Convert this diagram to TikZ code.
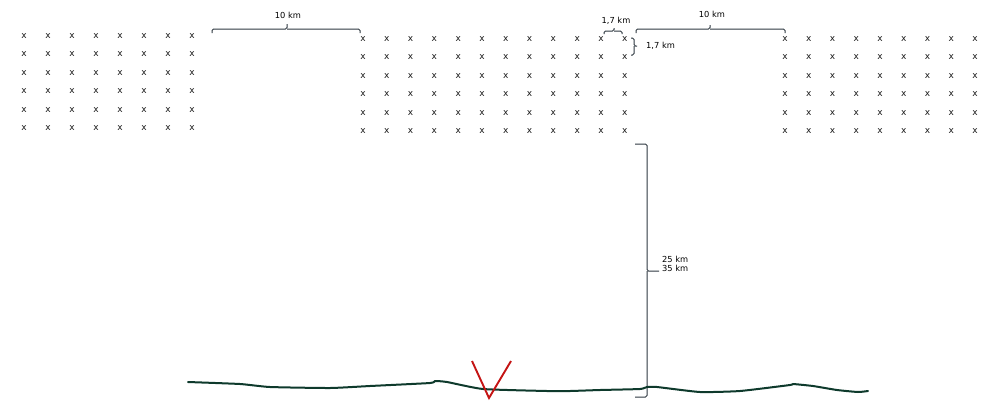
\documentclass[tikz,border=0pt]{standalone}
\usepackage{fontspec}
\setmainfont{DejaVu Sans}
\usepackage{tikz}

\definecolor{groundgreen}{HTML}{0E3A2C}
\definecolor{vred}{HTML}{C41414}
\definecolor{bracegrey}{HTML}{2E3840}

\tikzset{
  site/.style={inner sep=0pt, font=\fontsize{9}{10.8}\selectfont, text=black!90},
  kmlabel/.style={inner sep=0pt, font=\fontsize{8.3}{9.6}\selectfont, align=left},
  kmbrace/.style={draw=bracegrey, line width=1pt, rounded corners=1.5pt}
}

\begin{document}
\begin{tikzpicture}[x=1pt,y=-1pt]
\useasboundingbox (0,0) rectangle (990,416);

\foreach \i in {0,...,7}{
  \foreach \j in {0,...,5}{
    \node[site] (l-\i-\j) at ({24+24*\i},{36+18.4*\j}) {x};
  }
}
\foreach \i in {0,...,11}{
  \foreach \j in {0,...,5}{
    \node[site] (m-\i-\j) at ({363+23.8*\i},{39+18.4*\j}) {x};
  }
}
\foreach \i in {0,...,8}{
  \foreach \j in {0,...,5}{
    \node[site] (r-\i-\j) at ({785+23.75*\i},{39+18.4*\j}) {x};
  }
}

\draw[kmbrace] (212,33) |- (287,29) -- (287,24) (287,29) -| (360,33);
\node[kmlabel] (gap-left) at (288,15) {10 km};

\draw[kmbrace] (636,33) |- (710,29) -- (710,25) (710,29) -| (785,33);
\node[kmlabel] (gap-right) at (712,14) {10 km};

\draw[kmbrace] (604,34) |- (614,31) -- (614,28) (614,31) -| (622,34);
\node[kmlabel] (step-h) at (616,21) {1,7 km};

\draw[kmbrace] (631,38) -| (634,46) -- (637,46) (634,46) |- (631,55);
\node[kmlabel, anchor=west] (step-v) at (646,46) {1,7 km};

\draw[kmbrace] (635,144) -| (647,271) -- (659,271) (647,271) |- (635,397);
\node[kmlabel, anchor=west] (depth) at (662,264) {25 km\\35 km};

\draw[groundgreen, line width=2pt, line cap=round, line join=round]
  plot[smooth, tension=0.3] coordinates {(188,382) (240,384) (270,387) (330,388) (370,386)
  (430,383) (435,381) (447,382) (483,389) (547,391) (570,391) (600,390) (640,389)
  (647,387) (657,387) (700,392) (740,391) (790,385) (793,384) (813,386) (837,390)
  (858,392) (868,391)};

\draw[vred, line width=1.9pt] (472,361) -- (489,398) -- (511,361);
\end{tikzpicture}
\end{document}
